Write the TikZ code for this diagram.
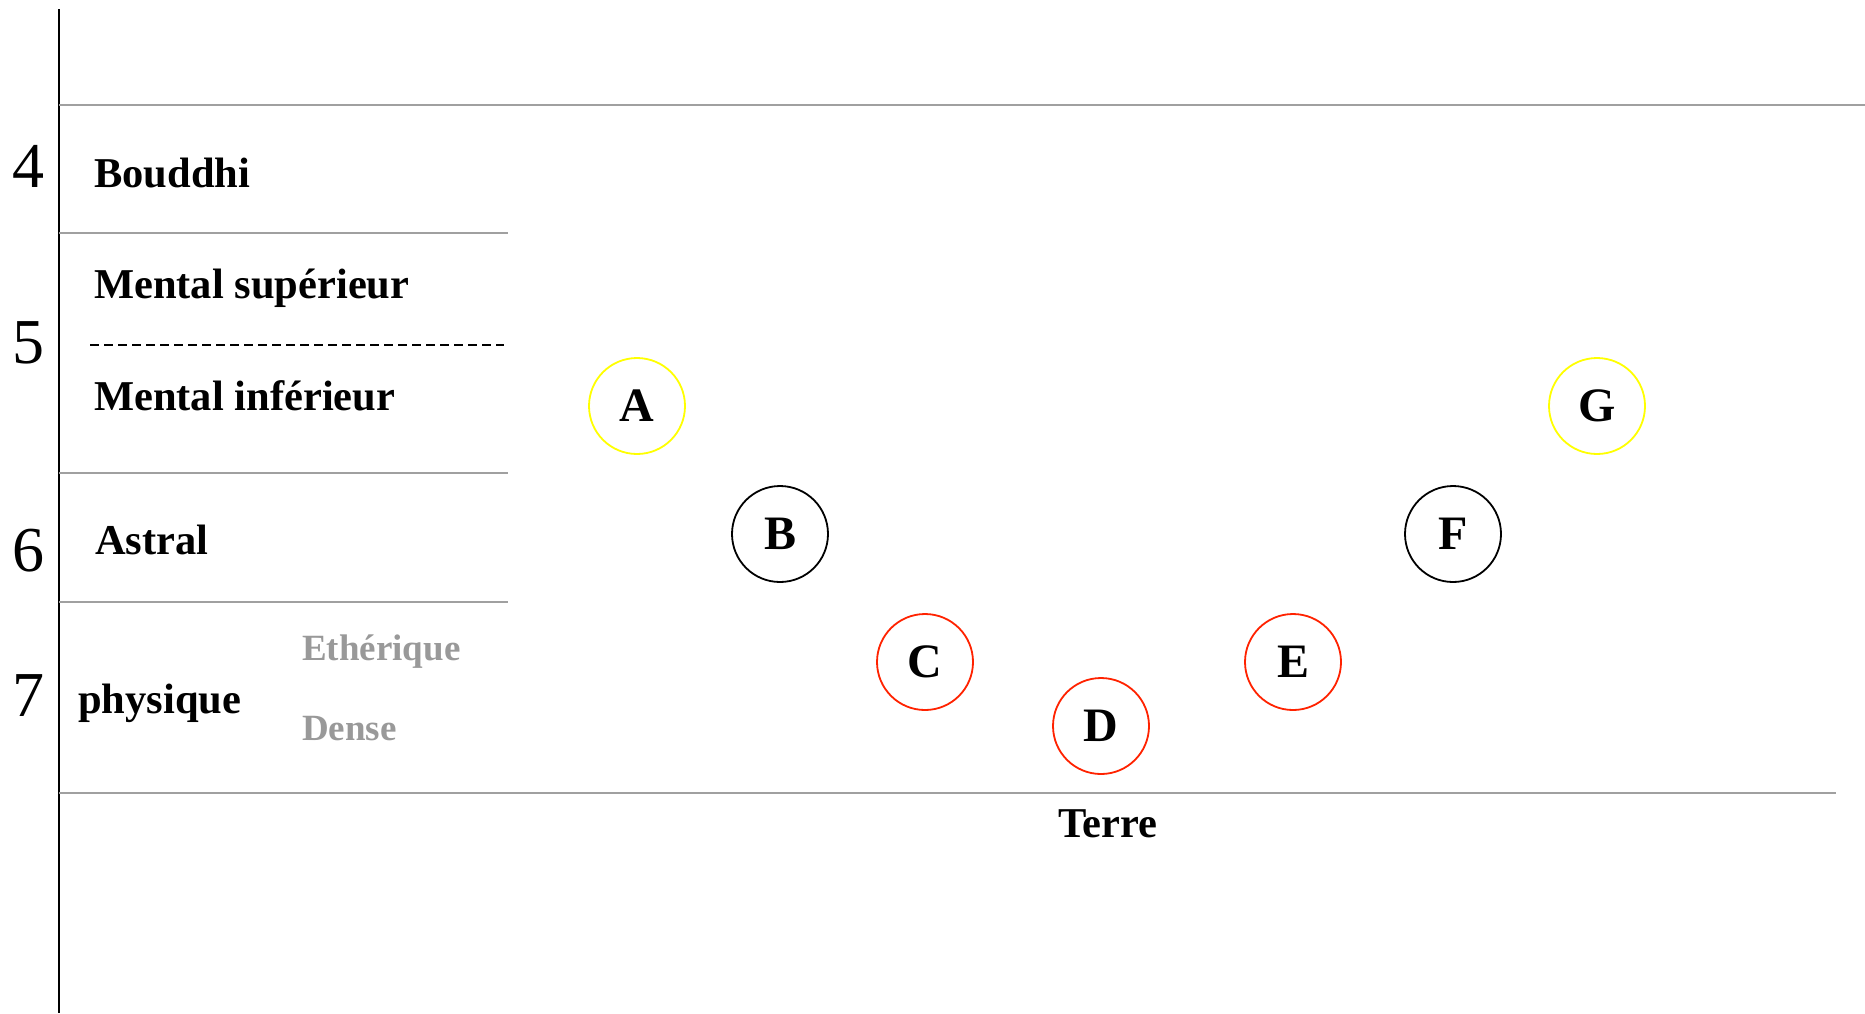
\documentclass[tikz,border=0pt]{standalone}
\usepackage{fontspec}
\setmainfont{Liberation Serif}
\definecolor{linegray}{HTML}{A0A0A0}
\definecolor{textgray}{HTML}{999999}
\definecolor{circred}{HTML}{FF2200}
\definecolor{circyellow}{HTML}{FFFF00}
\tikzset{
  plane/.style={draw=linegray, line width=2pt},
  lbl/.style={anchor=base west, inner sep=0pt, font=\fontsize{42.5}{50}\selectfont\bfseries},
  sublbl/.style={anchor=base west, inner sep=0pt, text=textgray, font=\fontsize{37}{44}\selectfont\bfseries},
  num/.style={anchor=base west, inner sep=0pt, font=\fontsize{64}{72}\selectfont},
  stage/.style={circle, draw=#1, line width=1.8pt, minimum size=96pt, inner sep=0pt, font=\fontsize{48}{56}\selectfont\bfseries}
}
\begin{document}
\begin{tikzpicture}[x=1pt,y=-1pt]
\useasboundingbox (0,0) rectangle (1865,1013);
% axis
\coordinate (axtop) at (59,9);
\coordinate (axbot) at (59,1013);
\draw[line width=2pt] (axtop) -- (axbot);
% plane lines
\coordinate (l1a) at (59,105); \coordinate (l1b) at (1865,105);
\coordinate (l2a) at (59,233); \coordinate (l2b) at (508,233);
\coordinate (l3a) at (59,473); \coordinate (l3b) at (508,473);
\coordinate (l4a) at (59,602); \coordinate (l4b) at (508,602);
\coordinate (l5a) at (59,793); \coordinate (l5b) at (1836,793);
\coordinate (d1a) at (90,345); \coordinate (d1b) at (504,345);
\draw[plane] (l1a) -- (l1b);
\draw[plane] (l2a) -- (l2b);
\draw[plane] (l3a) -- (l3b);
\draw[plane] (l4a) -- (l4b);
\draw[plane] (l5a) -- (l5b);
\draw[line width=1.6pt, dash pattern=on 9pt off 5pt] (d1a) -- (d1b);
% numbers
\node[num] (n4) at (12,187) {4};
\node[num] (n5) at (12,363) {5};
\node[num] (n6) at (12,571) {6};
\node[num] (n7) at (12,716) {7};
% labels
\node[lbl] (bouddhi) at (94,187) {Bouddhi};
\node[lbl] (msup) at (94,298) {Mental supérieur};
\node[lbl] (minf) at (94,410) {Mental inférieur};
\node[lbl] (astral) at (95,554) {Astral};
\node[lbl] (physique) at (78,713) {physique};
\node[sublbl] (etherique) at (302,660) {Ethérique};
\node[sublbl] (dense) at (302,740) {Dense};
\node[lbl, anchor=base] (terre) at (1108,837) {Terre};
% stages
\node[stage=circyellow] (A) at (637,406) {A};
\node[stage=black] (B) at (780,534) {B};
\node[stage=circred] (C) at (925,662) {C};
\node[stage=circred] (D) at (1101,726) {D};
\node[stage=circred] (E) at (1293,662) {E};
\node[stage=black] (F) at (1453,534) {F};
\node[stage=circyellow] (G) at (1597,406) {G};
\end{tikzpicture}
\end{document}
